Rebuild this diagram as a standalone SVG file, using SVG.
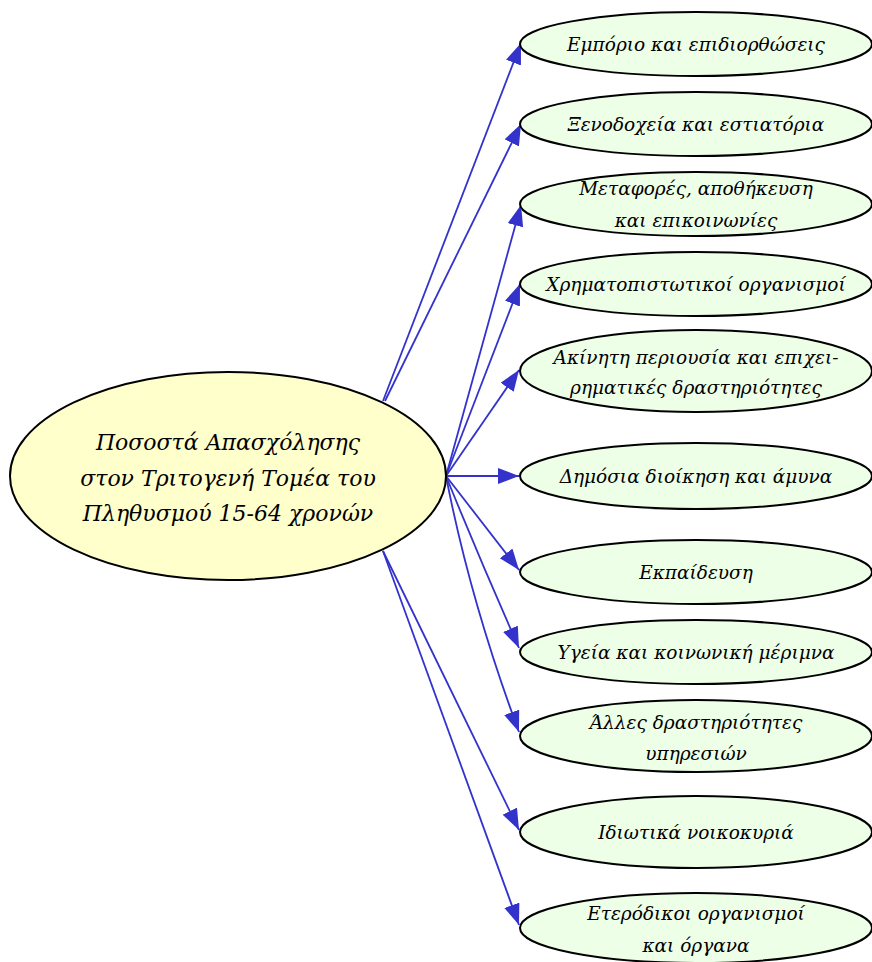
<svg xmlns="http://www.w3.org/2000/svg" width="872" height="962" viewBox="0 0 872 962">
<style>
.main{fill:#ffffcc;stroke:#000;stroke-width:2}
.leaf{fill:#eeffe8;stroke:#000;stroke-width:2}
.t{font-family:"DejaVu Serif",serif;font-style:italic;fill:#000;text-anchor:middle}
.tm{font-size:22px}
.tl{font-size:18.5px}
.c{fill:none;stroke:#3333cc;stroke-width:1.8;marker-end:url(#ah)}
</style>
<defs>
<marker id="ah" markerUnits="userSpaceOnUse" markerWidth="24" markerHeight="18" refX="21" refY="8" orient="auto">
<path d="M0,0 L21,8 L0,16 z" fill="#3333cc"/>
</marker>
</defs>
<rect width="872" height="962" fill="#fff"/>
<g id="connectors">
<path class="c" d="M383,401 L521,43"/>
<path class="c" d="M385,401 L521,124"/>
<path class="c" d="M446,476 L521,205"/>
<path class="c" d="M446,476 L520,284"/>
<path class="c" d="M446,476 L519,370"/>
<path class="c" d="M446,476 L519,476"/>
<path class="c" d="M446,476 L519,570"/>
<path class="c" d="M446,476 Q480,560 519,648"/>
<path class="c" d="M446,476 Q470,600 519,732"/>
<path class="c" d="M383,551 L519,830"/>
<path class="c" d="M383,551 L519,925"/>
</g>
<g id="n0">
<ellipse class="main" cx="228" cy="476" rx="218" ry="104"/>
<text class="t tm" x="228" y="450">Ποσοστά Απασχόλησης</text>
<text class="t tm" x="228" y="486">στον Τριτογενή Τομέα του</text>
<text class="t tm" x="228" y="521">Πληθυσμού 15-64 χρονών</text>
</g>
<g id="n1">
<ellipse class="leaf" cx="696" cy="44" rx="176" ry="32"/>
<text class="t tl" x="696" y="51">Εμπόριο και επιδιορθώσεις</text>
</g>
<g id="n2">
<ellipse class="leaf" cx="696" cy="124" rx="176" ry="32"/>
<text class="t tl" x="696" y="131">Ξενοδοχεία και εστιατόρια</text>
</g>
<g id="n3">
<ellipse class="leaf" cx="696" cy="204" rx="176" ry="32"/>
<text class="t tl" x="696" y="195">Μεταφορές, αποθήκευση</text>
<text class="t tl" x="696" y="227">και επικοινωνίες</text>
</g>
<g id="n4">
<ellipse class="leaf" cx="696" cy="284" rx="176" ry="32"/>
<text class="t tl" x="696" y="291">Χρηματοπιστωτικοί οργανισμοί</text>
</g>
<g id="n5">
<ellipse class="leaf" cx="696" cy="371" rx="176" ry="41"/>
<text class="t tl" x="696" y="364">Ακίνητη περιουσία και επιχει-</text>
<text class="t tl" x="696" y="394">ρηματικές δραστηριότητες</text>
</g>
<g id="n6">
<ellipse class="leaf" cx="696" cy="476" rx="176" ry="33"/>
<text class="t tl" x="696" y="483">Δημόσια διοίκηση και άμυνα</text>
</g>
<g id="n7">
<ellipse class="leaf" cx="696" cy="572" rx="176" ry="32"/>
<text class="t tl" x="696" y="579">Εκπαίδευση</text>
</g>
<g id="n8">
<ellipse class="leaf" cx="696" cy="652" rx="176" ry="32"/>
<text class="t tl" x="696" y="659">Υγεία και κοινωνική μέριμνα</text>
</g>
<g id="n9">
<ellipse class="leaf" cx="696" cy="736" rx="176" ry="36"/>
<text class="t tl" x="696" y="729">Άλλες δραστηριότητες</text>
<text class="t tl" x="696" y="760">υπηρεσιών</text>
</g>
<g id="n10">
<ellipse class="leaf" cx="696" cy="832" rx="176" ry="36"/>
<text class="t tl" x="696" y="839">Ιδιωτικά νοικοκυριά</text>
</g>
<g id="n11">
<ellipse class="leaf" cx="696" cy="928" rx="176" ry="35"/>
<text class="t tl" x="696" y="920">Ετερόδικοι οργανισμοί</text>
<text class="t tl" x="696" y="952">και όργανα</text>
</g>
</svg>
